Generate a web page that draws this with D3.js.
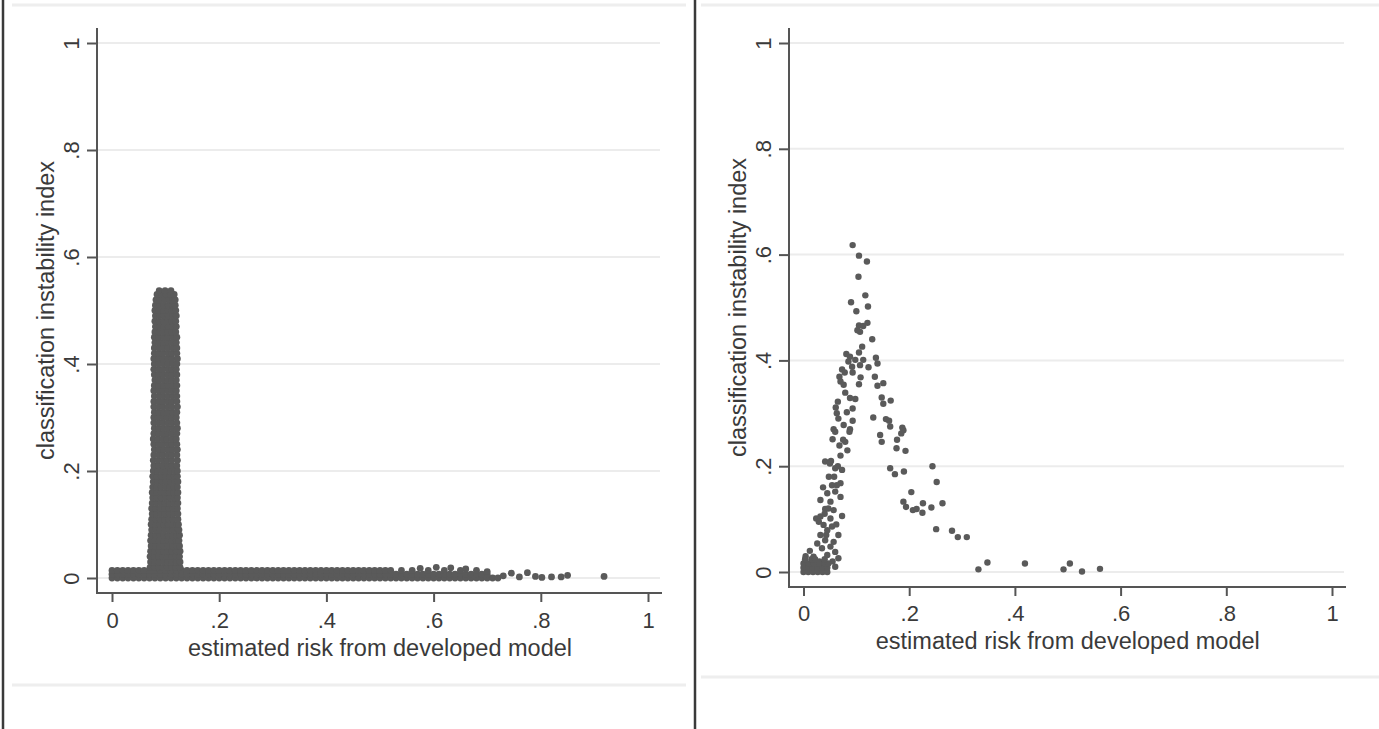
<!DOCTYPE html>
<html><head><meta charset="utf-8">
<script src="https://cdn.jsdelivr.net/npm/d3@7"></script>
<style>body{margin:0;background:#fff}svg{display:block}</style>
</head><body>
<script>
// ---------- data ----------
const tickValues = [0, 0.2, 0.4, 0.6, 0.8, 1];
const tickLabels = ["0", ".2", ".4", ".6", ".8", "1"];
const xTitle = "estimated risk from developed model";
const yTitle = "classification instability index";

// Left panel: dense cloud. Vertical column rows: [y, x values]
const leftColumnRows = [
 [0.020,[0.071,0.079,0.087,0.095,0.103,0.111,0.119,0.127]],
 [0.030,[0.072,0.080,0.088,0.096,0.104,0.112,0.120,0.127]],
 [0.040,[0.071,0.079,0.087,0.095,0.103,0.111,0.119,0.126]],
 [0.050,[0.072,0.080,0.088,0.096,0.104,0.112,0.120,0.127]],
 [0.060,[0.073,0.081,0.089,0.097,0.105,0.113,0.121,0.126]],
 [0.070,[0.072,0.080,0.088,0.096,0.104,0.112,0.120,0.125]],
 [0.080,[0.073,0.081,0.089,0.097,0.105,0.113,0.121,0.126]],
 [0.090,[0.074,0.082,0.090,0.098,0.106,0.114,0.122,0.125]],
 [0.100,[0.073,0.081,0.089,0.097,0.105,0.113,0.121,0.124]],
 [0.110,[0.074,0.082,0.090,0.098,0.106,0.114,0.123]],
 [0.120,[0.075,0.083,0.091,0.099,0.107,0.115,0.123]],
 [0.130,[0.074,0.082,0.090,0.098,0.106,0.114,0.122]],
 [0.140,[0.075,0.083,0.091,0.099,0.107,0.115,0.123]],
 [0.150,[0.076,0.084,0.092,0.100,0.108,0.116,0.122]],
 [0.160,[0.075,0.083,0.091,0.099,0.107,0.115,0.123]],
 [0.170,[0.076,0.084,0.092,0.100,0.108,0.116,0.122]],
 [0.180,[0.077,0.085,0.093,0.101,0.109,0.117,0.123]],
 [0.190,[0.076,0.084,0.092,0.100,0.108,0.116,0.122]],
 [0.200,[0.077,0.085,0.093,0.101,0.109,0.117,0.122]],
 [0.210,[0.078,0.087,0.095,0.104,0.112,0.121]],
 [0.220,[0.077,0.086,0.095,0.103,0.112,0.122]],
 [0.230,[0.078,0.087,0.095,0.104,0.112,0.121]],
 [0.240,[0.079,0.087,0.096,0.104,0.113,0.122]],
 [0.250,[0.078,0.087,0.095,0.104,0.112,0.121]],
 [0.260,[0.077,0.086,0.095,0.103,0.112,0.120]],
 [0.270,[0.078,0.087,0.095,0.104,0.112,0.121]],
 [0.280,[0.079,0.087,0.096,0.104,0.113,0.122]],
 [0.290,[0.078,0.087,0.095,0.104,0.112,0.121]],
 [0.300,[0.078,0.086,0.095,0.103,0.112,0.120]],
 [0.310,[0.079,0.087,0.096,0.104,0.113,0.121]],
 [0.320,[0.078,0.087,0.095,0.104,0.112,0.122]],
 [0.330,[0.078,0.087,0.095,0.104,0.112,0.121]],
 [0.340,[0.079,0.088,0.096,0.104,0.113,0.121]],
 [0.350,[0.078,0.087,0.095,0.104,0.112,0.120]],
 [0.360,[0.079,0.087,0.096,0.104,0.113,0.121]],
 [0.370,[0.080,0.088,0.096,0.104,0.112,0.120]],
 [0.380,[0.079,0.087,0.095,0.104,0.112,0.121]],
 [0.390,[0.078,0.087,0.095,0.104,0.112,0.120]],
 [0.400,[0.079,0.087,0.096,0.104,0.113,0.121]],
 [0.410,[0.078,0.087,0.095,0.104,0.112,0.122]],
 [0.420,[0.079,0.087,0.095,0.104,0.112,0.121]],
 [0.430,[0.079,0.088,0.096,0.104,0.113,0.121]],
 [0.440,[0.080,0.088,0.096,0.104,0.112,0.120]],
 [0.450,[0.079,0.087,0.096,0.104,0.113,0.121]],
 [0.460,[0.080,0.088,0.096,0.104,0.112,0.119]],
 [0.470,[0.081,0.089,0.097,0.105,0.113,0.120]],
 [0.480,[0.080,0.088,0.096,0.104,0.112,0.119]],
 [0.490,[0.081,0.089,0.097,0.105,0.113,0.120]],
 [0.500,[0.080,0.088,0.096,0.104,0.112,0.119]],
 [0.510,[0.081,0.089,0.097,0.105,0.113,0.118]],
 [0.520,[0.082,0.090,0.098,0.106,0.113,0.118]],
 [0.530,[0.084,0.093,0.101,0.109,0.116]],
 [0.537,[0.088,0.099,0.110]]
];
// Horizontal band along y≈0: [y, x values]
const leftBandRows = [
 [0.000,[0.000,0.010,0.020,0.030,0.040,0.050,0.060,0.070,0.080,0.090,0.100,0.110,0.120,0.130,0.140,0.150,0.160,0.170,0.180,0.190,0.200,0.210,0.220,0.230,0.240,0.250,0.260,0.270,0.280,0.290,0.300,0.310,0.320,0.330,0.340,0.350,0.360,0.370,0.380,0.390,0.400,0.410,0.420,0.430,0.440,0.450,0.460,0.470,0.480,0.490,0.500,0.510,0.520,0.530,0.540,0.550,0.560,0.570,0.580,0.590,0.600,0.610,0.620,0.630,0.640,0.650,0.660,0.670,0.680,0.690,0.700,0.710,0.720]],
 [0.007,[0.000,0.010,0.020,0.030,0.040,0.050,0.060,0.070,0.080,0.090,0.100,0.110,0.120,0.130,0.140,0.150,0.160,0.170,0.180,0.190,0.200,0.210,0.220,0.230,0.240,0.250,0.260,0.270,0.280,0.290,0.300,0.310,0.320,0.330,0.340,0.350,0.360,0.370,0.380,0.390,0.400,0.410,0.420,0.430,0.440,0.450,0.460,0.470,0.480,0.490,0.500,0.510,0.520,0.530,0.540,0.550,0.560,0.570,0.580,0.590,0.600,0.610,0.620,0.630,0.640,0.650,0.660,0.670,0.680,0.690,0.700]],
 [0.014,[0.000,0.010,0.020,0.030,0.040,0.050,0.060,0.070,0.080,0.090,0.100,0.110,0.120,0.130,0.140,0.150,0.160,0.170,0.180,0.190,0.200,0.210,0.220,0.230,0.240,0.250,0.260,0.270,0.280,0.290,0.300,0.310,0.320,0.330,0.340,0.350,0.360,0.370,0.380,0.390,0.400,0.410,0.420,0.430,0.440,0.450,0.460,0.470,0.480,0.490,0.500,0.510,0.520,0.540,0.560,0.590,0.620,0.650]]
];
// Scattered left-panel points at the tail: [x, y]
const leftTail = [
 [0.575,0.018],[0.605,0.020],[0.632,0.019],[0.660,0.017],[0.680,0.014],[0.700,0.012],
 [0.730,0.004],[0.745,0.009],[0.760,0.002],[0.775,0.010],[0.790,0.003],[0.802,0.001],
 [0.820,0.002],[0.838,0.002],[0.850,0.005],[0.918,0.003]
];

// Right panel points: [x, y]
const rightPoints = [
 [0.093,0.618],[0.105,0.598],[0.120,0.587],[0.104,0.558],[0.117,0.523],[0.090,0.510],
 [0.122,0.502],[0.100,0.493],[0.121,0.471],[0.105,0.466],[0.113,0.465],[0.107,0.454],
 [0.102,0.457],[0.130,0.440],[0.111,0.426],[0.081,0.412],[0.105,0.415],[0.088,0.407],
 [0.098,0.401],[0.113,0.401],[0.137,0.405],[0.140,0.394],[0.085,0.398],[0.092,0.388],
 [0.107,0.391],[0.123,0.387],[0.073,0.383],[0.078,0.377],[0.093,0.377],[0.068,0.369],
 [0.108,0.368],[0.135,0.369],[0.070,0.360],[0.076,0.354],[0.105,0.355],[0.140,0.352],
 [0.151,0.357],[0.079,0.339],[0.088,0.329],[0.098,0.327],[0.148,0.330],[0.165,0.324],
 [0.065,0.322],[0.151,0.318],[0.061,0.311],[0.093,0.309],[0.082,0.302],[0.063,0.300],
 [0.132,0.292],[0.156,0.289],[0.162,0.286],[0.093,0.286],[0.076,0.278],[0.187,0.273],
 [0.057,0.270],[0.088,0.270],[0.164,0.275],
 [0.060,0.265],[0.087,0.265],[0.055,0.251],[0.079,0.246],[0.068,0.239],[0.145,0.259],
 [0.148,0.246],[0.189,0.268],[0.185,0.262],[0.177,0.250],[0.176,0.234],[0.193,0.229],
 [0.041,0.209],[0.052,0.210],[0.060,0.196],[0.073,0.193],[0.048,0.180],[0.070,0.168],
 [0.063,0.164],[0.164,0.196],[0.173,0.185],[0.190,0.190],[0.244,0.200],[0.252,0.170],
 [0.204,0.151],[0.054,0.164],[0.045,0.149],[0.060,0.152],[0.070,0.142],[0.032,0.136],
 [0.051,0.133],[0.189,0.133],[0.194,0.123],[0.207,0.117],[0.214,0.119],[0.226,0.130],
 [0.225,0.112],[0.242,0.122],[0.263,0.130],[0.041,0.119],[0.057,0.117],[0.073,0.106],
 [0.024,0.101],[0.032,0.105],[0.051,0.101],[0.029,0.095],[0.038,0.089],[0.054,0.086],
 [0.045,0.079],[0.251,0.081],[0.281,0.078],[0.292,0.066],[0.309,0.066],[0.032,0.070],
 [0.066,0.070],[0.041,0.060],[0.057,0.057],[0.026,0.054],[0.051,0.048],[0.035,0.045],
 [0.060,0.038],[0.066,0.026],[0.004,0.030],[0.019,0.029],[0.045,0.032],
 [0.331,0.005],[0.348,0.018],[0.419,0.016],[0.492,0.005],[0.504,0.016],[0.527,0.001],
 [0.561,0.006],
 [0.012,0.040],[0.030,0.020],[0.055,0.020],[0.060,0.010],[0.040,0.110],[0.047,0.120],
 [0.037,0.160],[0.058,0.180],[0.065,0.200],[0.050,0.205],[0.043,0.070],[0.062,0.090],
 [0.070,0.220],[0.075,0.250],[0.066,0.290],[0.083,0.230],
 // cluster near the origin
 [0.000,0.000],[0.009,0.000],[0.018,0.000],[0.027,0.000],[0.036,0.000],[0.045,0.000],
 [0.000,0.008],[0.009,0.008],[0.018,0.008],[0.027,0.008],[0.036,0.008],[0.045,0.008],
 [0.000,0.016],[0.010,0.016],[0.020,0.016],[0.030,0.016],[0.040,0.016],[0.047,0.016],
 [0.003,0.024],[0.015,0.024],[0.022,0.024],[0.040,0.024]
];

// ---------- drawing ----------
const W = 1379, H = 729;
const svg = d3.select("body").append("svg").attr("width", W).attr("height", H);
svg.append("rect").attr("width", W).attr("height", H).attr("fill", "#fff");

const FONT = "'Liberation Sans', Arial, Helvetica, sans-serif";
const AX = "#555";
const DOT = "#5a5a5a";
const TXT = "#3a3a3a";

// frame lines
svg.append("line").attr("x1",12).attr("x2",686).attr("y1",5).attr("y2",5).attr("stroke","#eeeeee").attr("stroke-width",3);
svg.append("line").attr("x1",701).attr("x2",1379).attr("y1",5).attr("y2",5).attr("stroke","#eeeeee").attr("stroke-width",3);
svg.append("line").attr("x1",12).attr("x2",686).attr("y1",685).attr("y2",685).attr("stroke","#eeeeee").attr("stroke-width",3);
svg.append("line").attr("x1",701).attr("x2",1379).attr("y1",677).attr("y2",677).attr("stroke","#eeeeee").attr("stroke-width",3);
svg.append("line").attr("x1",3).attr("x2",3).attr("y1",0).attr("y2",H).attr("stroke","#3a3a3a").attr("stroke-width",2.5);
svg.append("line").attr("x1",695).attr("x2",695).attr("y1",0).attr("y2",H).attr("stroke","#3a3a3a").attr("stroke-width",2.5);

function panel(cfg, points) {
  const x = d3.scaleLinear().domain([0,1]).range([cfg.x0, cfg.x1]);
  const y = d3.scaleLinear().domain([0,1]).range([cfg.y0, cfg.y1]);
  const g = svg.append("g");

  // gridlines
  g.selectAll("line.grid").data(tickValues).join("line")
    .attr("x1", cfg.axisX + 1).attr("x2", cfg.axisEnd - 2)
    .attr("y1", d => y(d)).attr("y2", d => y(d))
    .attr("stroke", "#ececec").attr("stroke-width", 2);

  // points
  g.selectAll("circle").data(points).join("circle")
    .attr("cx", d => x(d[0])).attr("cy", d => y(d[1]))
    .attr("r", cfg.r).attr("fill", DOT);

  // y axis
  const ya = g.append("g").attr("transform", `translate(${cfg.axisX},0)`)
    .call(d3.axisLeft(y).tickValues(tickValues).tickFormat((d,i) => tickLabels[i]).tickSize(10).tickSizeOuter(0));
  ya.select(".domain").remove();
  ya.selectAll(".tick line").attr("stroke", AX).attr("stroke-width", 2);
  ya.selectAll(".tick text")
    .attr("x", null).attr("dy", null)
    .attr("transform", "translate(-18,0) rotate(-90)")
    .attr("text-anchor", "middle")
    .attr("font-family", FONT).attr("font-size", 22).attr("fill", TXT);
  g.append("line").attr("x1", cfg.axisX).attr("x2", cfg.axisX)
    .attr("y1", 28).attr("y2", cfg.axisY + 1).attr("stroke", AX).attr("stroke-width", 2);

  // x axis
  const xa = g.append("g").attr("transform", `translate(0,${cfg.axisY})`)
    .call(d3.axisBottom(x).tickValues(tickValues).tickFormat((d,i) => tickLabels[i]).tickSize(9).tickSizeOuter(0));
  xa.select(".domain").remove();
  xa.selectAll(".tick line").attr("stroke", AX).attr("stroke-width", 2);
  xa.selectAll(".tick text")
    .attr("y", cfg.xLabelBase - cfg.axisY).attr("dy", null)
    .attr("font-family", FONT).attr("font-size", 22).attr("fill", TXT);
  g.append("line").attr("x1", cfg.axisX - 1).attr("x2", cfg.axisEnd)
    .attr("y1", cfg.axisY).attr("y2", cfg.axisY).attr("stroke", AX).attr("stroke-width", 2);

  // titles
  g.append("text").attr("x", (cfg.x0 + cfg.x1) / 2).attr("y", cfg.xTitleBase)
    .attr("text-anchor", "middle").attr("font-family", FONT).attr("font-size", 23.5).attr("fill", TXT)
    .text(xTitle);
  g.append("text").attr("transform", `translate(${cfg.yTitleBase},${(cfg.y0 + cfg.y1) / 2}) rotate(-90)`)
    .attr("text-anchor", "middle").attr("font-family", FONT).attr("font-size", 23.5).attr("fill", TXT)
    .text(yTitle);
}

const leftPoints = [];
leftBandRows.forEach(([yy, xs]) => xs.forEach(xx => leftPoints.push([xx, yy])));
leftColumnRows.forEach(([yy, xs]) => xs.forEach(xx => leftPoints.push([xx, yy])));
leftTail.forEach(p => leftPoints.push(p));

panel({x0:112, x1:648, y0:578, y1:43, axisX:97, axisY:593, axisEnd:662,
       xLabelBase:628, xTitleBase:655.5, yTitleBase:54, r:3.4}, leftPoints);
panel({x0:803.5, x1:1332, y0:572, y1:43, axisX:789, axisY:587, axisEnd:1346,
       xLabelBase:621, xTitleBase:648.5, yTitleBase:746, r:3.2}, rightPoints);
</script>
</body></html>
